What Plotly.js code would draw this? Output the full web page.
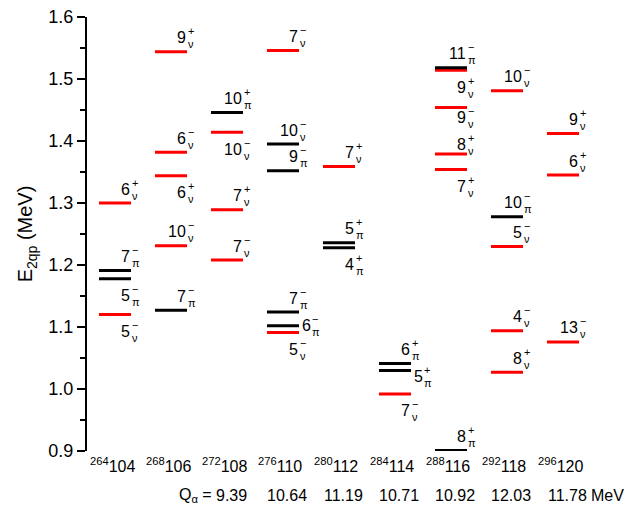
<!DOCTYPE html>
<html><head><meta charset="utf-8">
<script src="https://cdn.plot.ly/plotly-3.0.1.min.js"></script>
<style>html,body{margin:0;padding:0;background:#fff}</style>
</head><body>
<div id="chart" style="width:641px;height:507px"></div>
<script>
// ---------------- data ----------------
const massNumbers   = ['264','268','272','276','280','284','288','292','296'];
const protonNumbers = ['104','106','108','110','112','114','116','118','120'];
const qAlpha        = [null, null, '9.39','10.64','11.19','10.71','10.92','12.03','11.78'];

// two-quasiparticle levels (index of nucleus, energy in MeV, spin, parity, quasi-particle type)
const levelNucleus = [0,0,0,0, 1,1,1,1,1, 2,2,2,2, 3,3,3,3,3,3, 4,4,4, 5,5,5, 6,6,6,6,6,6, 7,7,7,7,7, 8,8,8];
const levelEnergy  = [1.300,1.191,1.178,1.120,
                      1.544,1.382,1.344,1.231,1.127,
                      1.446,1.414,1.289,1.208,
                      1.546,1.395,1.352,1.124,1.102,1.091,
                      1.359,1.236,1.228,
                      1.041,1.030,0.992,
                      1.518,1.514,1.454,1.379,1.354,0.901,
                      1.481,1.278,1.230,1.094,1.027,
                      1.412,1.345,1.076];
const levelSpin    = ['6','7','5','5', '9','6','6','10','7', '10','10','7','7', '7','10','9','7','6','5',
                      '7','5','4', '6','5','7', '11','9','9','8','7','8', '10','10','5','4','8', '9','6','13'];
const levelParity  = ['+','−','−','−', '+','−','+','−','−', '+','−','+','−', '−','−','−','−','−','−',
                      '+','+','+', '+','+','−', '−','+','−','+','+','+', '−','−','−','−','+', '+','+','−'];
const levelQP      = ['ν','π','π','ν', 'ν','ν','ν','ν','π', 'π','ν','ν','ν', 'ν','ν','π','π','π','ν',
                      'ν','π','π', 'π','π','ν', 'π','ν','ν','ν','ν','π', 'ν','π','ν','ν','ν', 'ν','ν','ν'];
// group used for the bar colour (as drawn in the figure)
const levelGroup   = ['ν','π','π','ν', 'ν','ν','ν','ν','π', 'π','ν','ν','ν', 'ν','π','π','π','π','ν',
                      'ν','π','π', 'π','π','ν', 'π','ν','ν','ν','ν','π', 'ν','π','ν','ν','ν', 'ν','ν','ν'];

// ---------------- label placement (style) ----------------
const labelPlace = ['above','above','below','below',
                    'above','above','below','above','above',
                    'above','below','above','above',
                    'above','above','above','above','right','below',
                    'above','above','below',
                    'above','rightLow','below',
                    'above','below','belowTight','aboveTight','below','above',
                    'above','above','above','above','above',
                    'above','above','above'];

const FONT = 'Liberation Sans, Arial, sans-serif';
const groupColor = {'ν':'#ff0000','π':'#000000'};
const HALF = 0.286;          // half length of a level bar in x units
const ENDPX = 16;            // half length in pixels
const placeDy = {above: 14, aboveTight: 10, below: -17, belowTight: -10, right: 0, rightLow: -6};

// bars
const traces = ['ν','π'].map(g => {
  const xs = [], ys = [];
  levelEnergy.forEach((e,i) => {
    if (levelGroup[i] !== g) return;
    const c = levelNucleus[i] + 1;
    xs.push(c - HALF, c + HALF, null);
    ys.push(e, e, null);
  });
  return {x: xs, y: ys, mode: 'lines', type: 'scatter', hoverinfo: 'skip',
          line: {color: groupColor[g], width: 3}, cliponaxis: false, showlegend: false};
});

const ann = [];
levelEnergy.forEach((e,i) => {
  const c = levelNucleus[i] + 1;
  const p = labelPlace[i];
  const ny = placeDy[p];
  let nx, anchor, supX;
  if (p.indexOf('right') !== 0) {
    anchor = 'right'; nx = ENDPX + 1; supX = ENDPX - 1;
  } else {
    anchor = 'left'; nx = ENDPX + 1;
    supX = ENDPX + 1 + levelSpin[i].length * 8.9 + 1;
  }
  ann.push({x: c, y: e, xref: 'x', yref: 'y', text: levelSpin[i], showarrow: false,
            xanchor: anchor, yanchor: 'middle', xshift: nx, yshift: ny,
            font: {family: FONT, size: 16, color: '#000'}});
  ann.push({x: c, y: e, xref: 'x', yref: 'y', text: levelParity[i], showarrow: false,
            xanchor: 'left', yanchor: 'middle', xshift: supX, yshift: ny + 6.5,
            font: {family: FONT, size: 11, color: '#000'}});
  ann.push({x: c, y: e, xref: 'x', yref: 'y', text: levelQP[i], showarrow: false,
            xanchor: 'left', yanchor: 'middle', xshift: supX, yshift: ny - 6.5,
            font: {family: FONT, size: 11, color: '#000'}});
});

// nucleus labels
protonNumbers.forEach((z,i) => {
  ann.push({x: i + 1, y: 0, xref: 'x', yref: 'paper', showarrow: false,
            text: '<sup>' + massNumbers[i] + '</sup>' + z,
            xanchor: 'center', yanchor: 'middle', xshift: -3, yshift: -14,
            font: {family: FONT, size: 16, color: '#000'}});
});
// Q-alpha row
let firstQ = -1;
qAlpha.forEach((q,i) => {
  if (q === null) return;
  if (firstQ < 0) firstQ = i;
  ann.push({x: i + 1, y: 0, xref: 'x', yref: 'paper', showarrow: false, text: q,
            xanchor: 'center', yanchor: 'middle', xshift: 4, yshift: -44,
            font: {family: FONT, size: 16, color: '#000'}});
});
ann.push({x: firstQ + 1, y: 0, xref: 'x', yref: 'paper', showarrow: false,
          text: 'Q<sub>α</sub> = ', xanchor: 'right', yanchor: 'middle', xshift: -9, yshift: -44,
          font: {family: FONT, size: 16, color: '#000'}});
ann.push({x: qAlpha.length, y: 0, xref: 'x', yref: 'paper', showarrow: false,
          text: 'MeV', xanchor: 'left', yanchor: 'middle', xshift: 26, yshift: -44,
          font: {family: FONT, size: 16, color: '#000'}});

const layout = {
  width: 641, height: 507,
  margin: {l: 87, r: 50, t: 17, b: 56},
  paper_bgcolor: '#fff', plot_bgcolor: '#fff',
  showlegend: false,
  font: {family: FONT, color: '#000'},
  xaxis: {range: [0.5, 9.5], showline: false, showgrid: false, zeroline: false,
          showticklabels: false, ticks: '', fixedrange: true},
  yaxis: {range: [0.9, 1.6], dtick: 0.1, tick0: 0.9, tickformat: '.1f',
          showline: true, linewidth: 2, linecolor: '#000', mirror: false,
          ticks: 'outside', ticklen: 8, tickwidth: 2, tickcolor: '#000',
          minor: {dtick: 0.05, ticks: 'outside', ticklen: 5, tickwidth: 2, tickcolor: '#000'},
          showgrid: false, zeroline: false,
          tickfont: {family: FONT, size: 18, color: '#000'},
          title: {text: 'E<sub>2qp</sub> (MeV)', font: {family: FONT, size: 20, color: '#000'}, standoff: 10}},
  annotations: ann
};

Plotly.newPlot('chart', traces, layout, {displayModeBar: false, staticPlot: true});
</script>
</body></html>
